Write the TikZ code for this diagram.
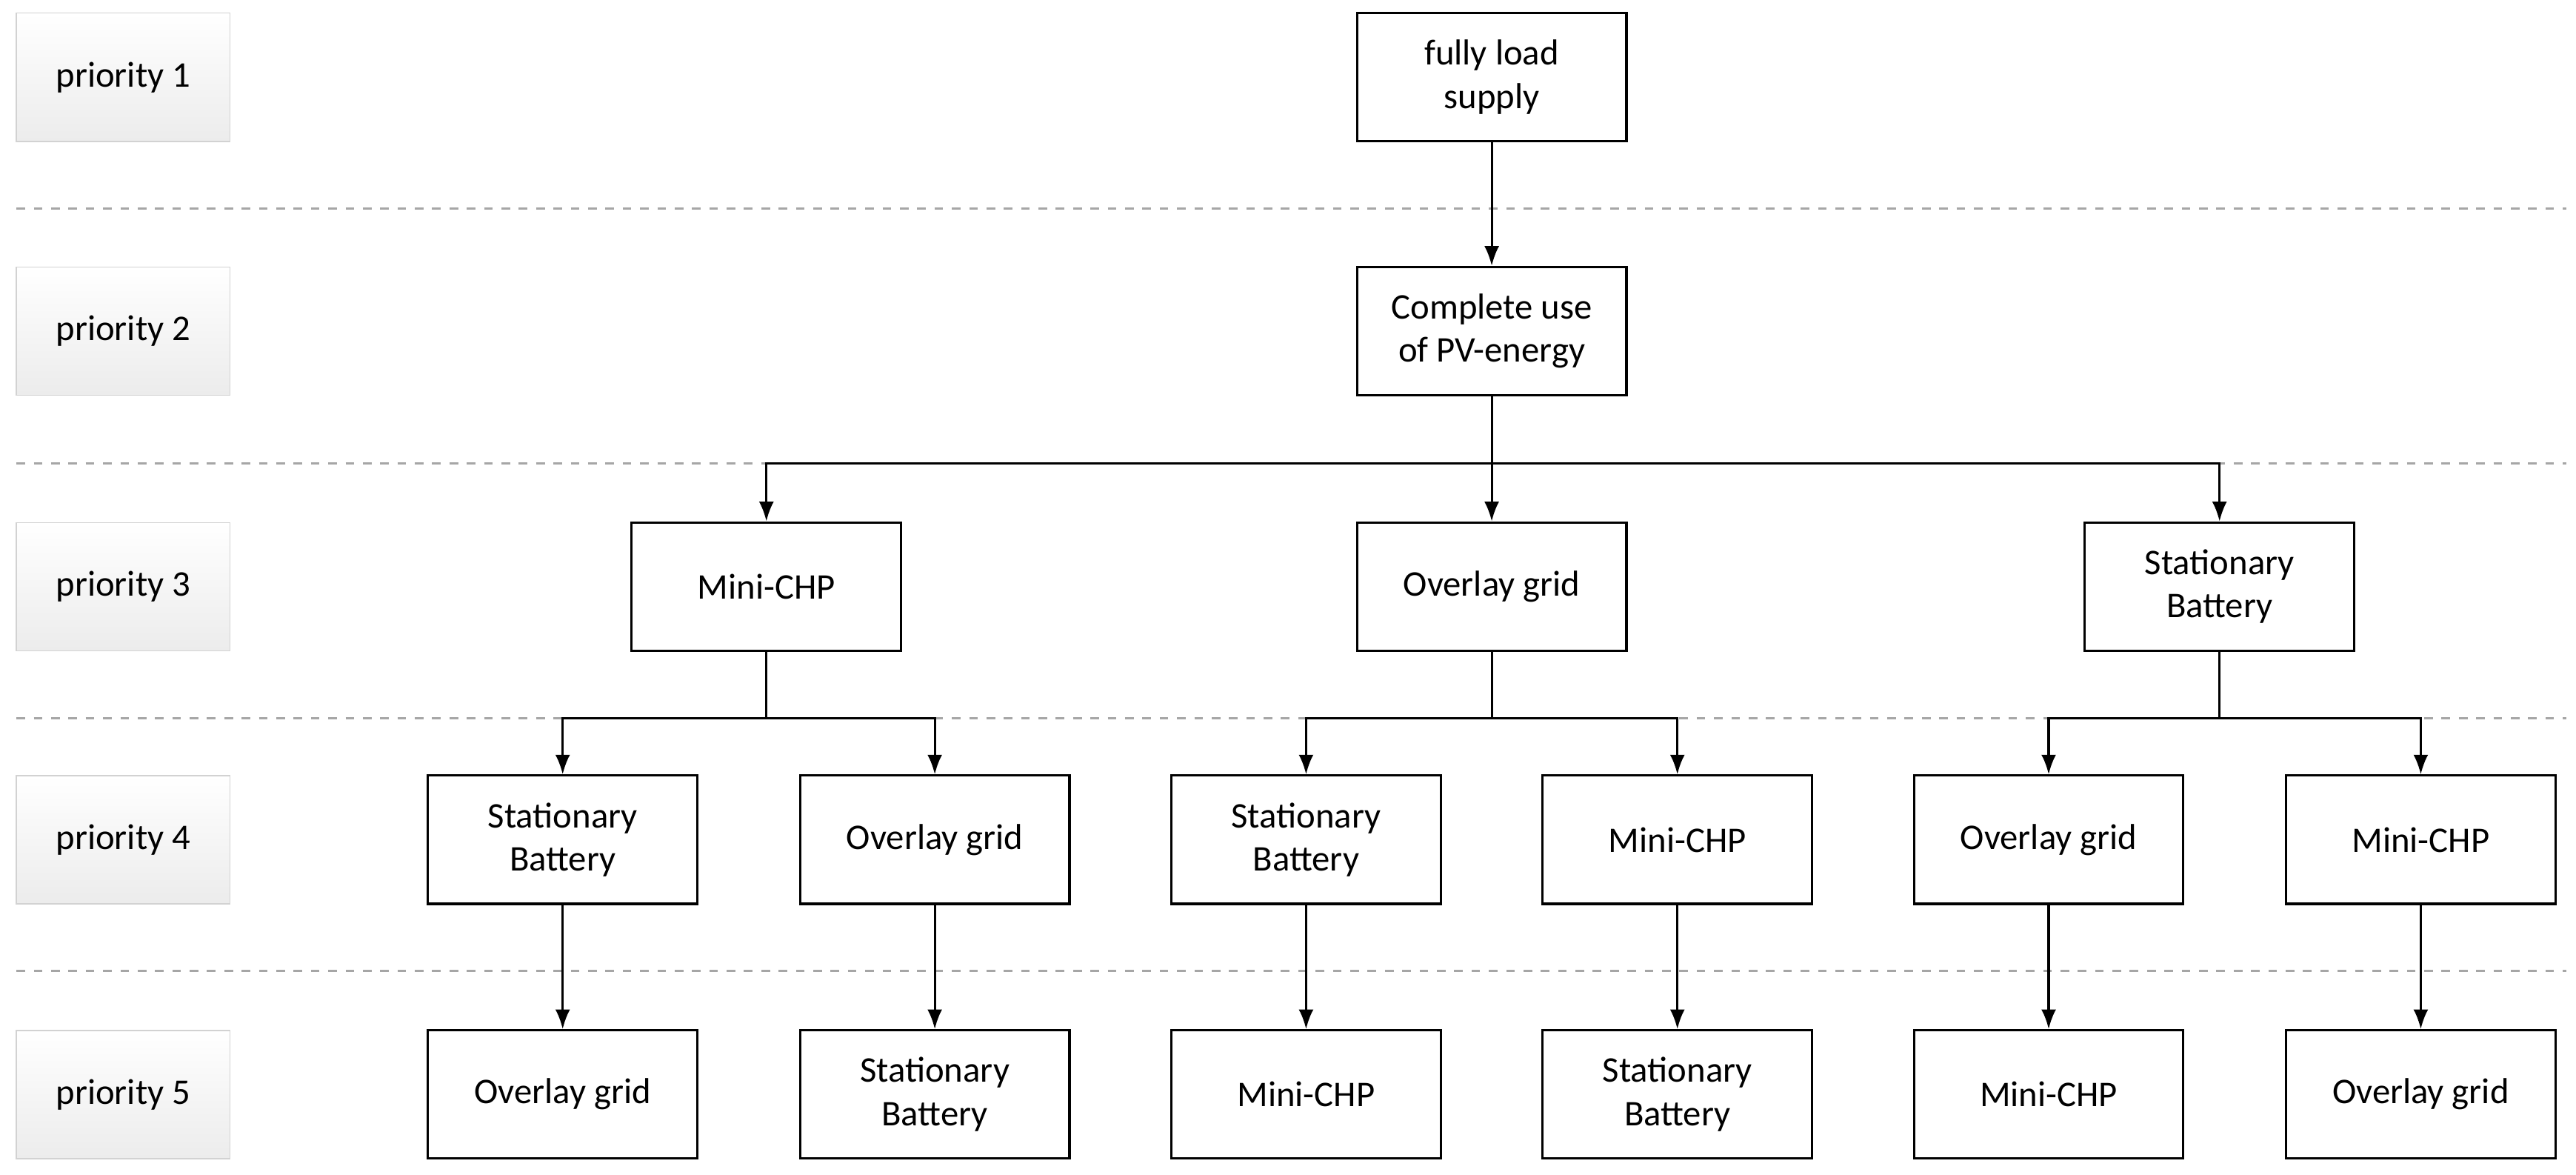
\documentclass[tikz,border=0pt]{standalone}
\usepackage{fontspec}
\setmainfont{Carlito}
\usetikzlibrary{positioning,arrows.meta,calc}

\tikzset{
  box/.style={draw, thick, minimum width=3.28cm, minimum height=1.56cm, align=center, inner sep=2pt},
  prio/.style={draw=gray!35, top color=white, bottom color=gray!15, minimum width=2.6cm, minimum height=1.56cm},
  sep/.style={dashed, gray!70, thick},
  arr/.style={thick, -{Latex[length=2.4mm,width=1.8mm]}}
}

\begin{document}
\begin{tikzpicture}[font=\fontsize{12.5}{15}\selectfont]
\useasboundingbox (0,0) rectangle (31.36,14.3);

% === PRIORITY LABELS ===
\foreach \i/\y in {1/13.36, 2/10.27, 3/7.16, 4/4.08, 5/0.98}
  \node[prio] (prio\i) at (1.5,\y) {priority \i};

% separators
\foreach \y in {11.76, 8.66, 5.56, 2.48}
  \draw[sep] (0.2,\y) -- (31.24,\y);

% === TREE ===
\node[box] (load) at (18.16,13.36) {fully load\\supply};
\node[box] (pv) at (18.16,10.27) {Complete use\\of PV-energy};

\node[box] (chp3) at (9.33,7.16) {Mini-CHP};
\node[box] (grid3) at (18.16,7.16) {Overlay grid};
\node[box] (bat3) at (27.02,7.16) {Stationary\\Battery};

\node[box] (bat4a) at (6.85,4.08) {Stationary\\Battery};
\node[box] (grid4a) at (11.38,4.08) {Overlay grid};
\node[box] (bat4b) at (15.9,4.08) {Stationary\\Battery};
\node[box] (chp4b) at (20.42,4.08) {Mini-CHP};
\node[box] (grid4c) at (24.94,4.08) {Overlay grid};
\node[box] (chp4c) at (29.47,4.08) {Mini-CHP};

\node[box] (grid5a) at (6.85,0.98) {Overlay grid};
\node[box] (bat5a) at (11.38,0.98) {Stationary\\Battery};
\node[box] (chp5b) at (15.9,0.98) {Mini-CHP};
\node[box] (bat5b) at (20.42,0.98) {Stationary\\Battery};
\node[box] (chp5c) at (24.94,0.98) {Mini-CHP};
\node[box] (grid5c) at (29.47,0.98) {Overlay grid};

% branch points
\coordinate (fork2) at (18.16,8.66);
\coordinate (fork3a) at (9.33,5.56);
\coordinate (fork3b) at (18.16,5.56);
\coordinate (fork3c) at (27.02,5.56);

% connectors
\draw[arr] (load) -- (pv);
\draw[thick] (pv) -- (fork2);
\draw[arr] (fork2) -| (chp3.north);
\draw[arr] (fork2) -- (grid3);
\draw[arr] (fork2) -| (bat3.north);

\draw[thick] (chp3) -- (fork3a);
\draw[arr] (fork3a) -| (bat4a.north);
\draw[arr] (fork3a) -| (grid4a.north);
\draw[thick] (grid3) -- (fork3b);
\draw[arr] (fork3b) -| (bat4b.north);
\draw[arr] (fork3b) -| (chp4b.north);
\draw[thick] (bat3) -- (fork3c);
\draw[arr] (fork3c) -| (grid4c.north);
\draw[arr] (fork3c) -| (chp4c.north);

\draw[arr] (bat4a) -- (grid5a);
\draw[arr] (grid4a) -- (bat5a);
\draw[arr] (bat4b) -- (chp5b);
\draw[arr] (chp4b) -- (bat5b);
\draw[arr] (grid4c) -- (chp5c);
\draw[arr] (chp4c) -- (grid5c);

\end{tikzpicture}
\end{document}
